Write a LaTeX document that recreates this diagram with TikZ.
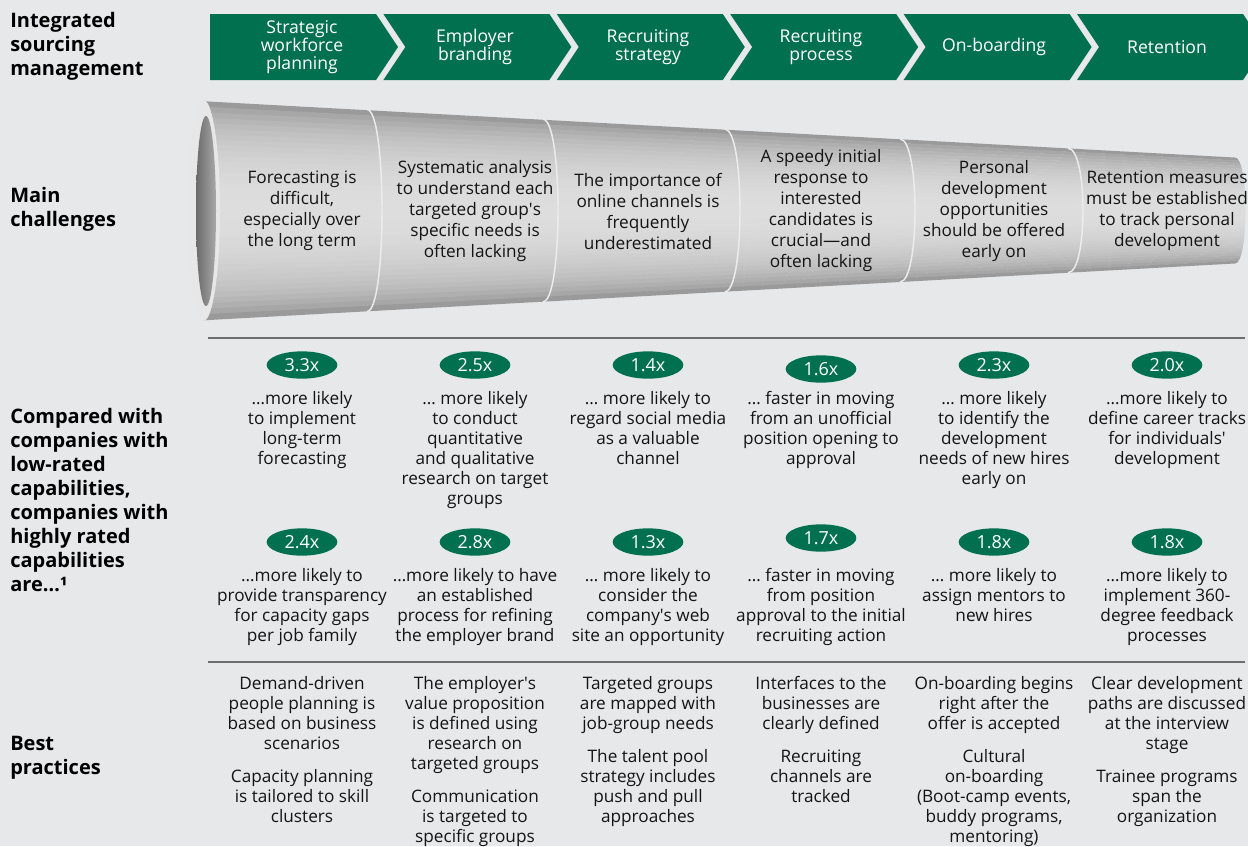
\documentclass[tikz,border=0pt]{standalone}
\usepackage{fontspec}
\setmainfont{Open Sans}
\usetikzlibrary{positioning,shapes.geometric}
\definecolor{bcggreen}{HTML}{00704F}
\definecolor{pagebg}{HTML}{E7E8E9}
\definecolor{rulegray}{HTML}{6E6E6E}
\definecolor{pipedark}{HTML}{858585}
\definecolor{pipelight}{HTML}{DDDDDD}
\definecolor{inkblack}{HTML}{141414}
\tikzset{
  rowlabel/.style = {anchor=west, align=left, inner sep=0pt,
                     font=\fontsize{15}{18}\selectfont\bfseries},
  chevtext/.style = {align=center, text=white, inner sep=0pt,
                     font=\fontsize{13.2}{13.5}\selectfont},
  pipetext/.style = {align=center, text=inkblack, inner sep=0pt,
                     font=\fontsize{12.9}{15.75}\selectfont},
     badge/.style = {ellipse, fill=bcggreen, text=white, inner sep=0pt,
                     minimum width=53pt, minimum height=20.5pt,
                     font=\fontsize{13.5}{14}\selectfont},
  celltext/.style = {anchor=north, align=center, text=inkblack, inner sep=0pt,
                     font=\fontsize{12.9}{15}\selectfont},
}
\begin{document}
\begin{tikzpicture}[x=0.75pt,y=-0.75pt]
\fill[pagebg] (0,0) rectangle (1248,846);
\useasboundingbox (0,0) rectangle (1248,846);
\clip (0,0) rectangle (1248,846);

% row labels
\node[rowlabel] (lblsourcing) at (10,46) {Integrated\\sourcing\\management};
\node[rowlabel] (lblchallenge) at (10,209) {Main\\challenges};
\node[rowlabel] (lblcompare) at (10,500) {Compared with\\companies with\\low-rated\\capabilities,\\companies with\\highly rated\\capabilities\\are…¹};
\node[rowlabel] (lblpractice) at (10,758) {Best\\practices};

% process chevrons
\foreach \i [evaluate=\i as \x using 210+173.4*\i] in {0,...,5}{
  \ifnum\i=0
    \fill[bcggreen] (\x,14) -- (\x+166,14) -- (\x+188,47) -- (\x+166,80) -- (\x,80) -- cycle;
  \else
    \fill[bcggreen] (\x,14) -- (\x+166,14) -- (\x+188,47) -- (\x+166,80) -- (\x,80) -- (\x+22,47) -- cycle;
  \fi
}
\node[chevtext] (ph1) at (302,47) {Strategic\\workforce\\planning};
\node[chevtext] (ph2) at (475,47) {Employer\\branding};
\node[chevtext] (ph3) at (648,47) {Recruiting\\strategy};
\node[chevtext] (ph4) at (821,47) {Recruiting\\process};
\node[chevtext] (ph5) at (994,47) {On-boarding};
\node[chevtext] (ph6) at (1167,47) {Retention};

% the pipe
\begin{scope}
  \clip (204,100.5) -- (1235,157.5) .. controls (1249,157.5) and (1249,263.5) .. (1235,263.5) -- (204,320.5) -- cycle;
  \foreach \j [evaluate=\j as \p using 100*sin(180*(\j+0.5)/40)^0.45] in {0,...,39}{
    \fill[pipelight!\p!pipedark] (190,{100.5+5.5*\j}) -- (1260,{158.9+2.58*\j})
       -- (1260,{158.9+2.58*(\j+1.1)}) -- (190,{100.5+5.5*(\j+1.1)}) -- cycle;
  }
\end{scope}
\fill[pipelight!70!white] (204,210.5) ellipse[x radius=16, y radius=110];
\shade[left color=pipedark!80!black, right color=pipedark!60!pipelight] (206,211) ellipse[x radius=10, y radius=95];
\foreach \s in {367,543,725,900,1068}{
  \draw[white!85!gray, line width=1.1pt] (\s,{100.5+0.0553*(\s-204)})
     .. controls (\s+20,{100.5+0.0553*(\s-204)}) and (\s+20,{320.5-0.0553*(\s-204)}) .. (\s,{320.5-0.0553*(\s-204)});
}
\node[pipetext] (ch1) at (302,211) {Forecasting is\\difficult,\\especially over\\the long term};
\node[pipetext] (ch2) at (475,211) {Systematic analysis\\to understand each\\targeted group\textquotesingle s\\specific needs is\\often lacking};
\node[pipetext] (ch3) at (648,211) {The importance of\\online channels is\\frequently\\underestimated};
\node[pipetext] (ch4) at (821,211) {A speedy initial\\response to\\interested\\candidates is\\crucial—and\\often lacking};
\node[pipetext] (ch5) at (994,211) {Personal\\development\\opportunities\\should be offered\\early on};
\node[pipetext] (ch6) at (1167,211) {Retention measures\\must be established\\to track personal\\development};

% rules
\draw[rulegray, line width=1pt] (208,338) -- (1245,338);
\draw[rulegray, line width=1pt] (208,662) -- (1245,662);

% comparison, first row
\node[badge] (ba1) at (302,365) {3.3x};
\node[badge] (ba2) at (475,365) {2.5x};
\node[badge] (ba3) at (648,365) {1.4x};
\node[badge] (ba4) at (821,369) {1.6x};
\node[badge] (ba5) at (994,365) {2.3x};
\node[badge] (ba6) at (1167,365) {2.0x};
\node[celltext] (ta1) at (302,391) {…more likely\\to implement\\long-term\\forecasting};
\node[celltext] (ta2) at (475,391) {… more likely\\to conduct\\quantitative\\and qualitative\\research on target\\groups};
\node[celltext] (ta3) at (648,391) {… more likely to\\regard social media\\as a valuable\\channel};
\node[celltext] (ta4) at (821,391) {… faster in moving\\from an unofficial\\position opening to\\approval};
\node[celltext] (ta5) at (994,391) {… more likely\\to identify the\\development\\needs of new hires\\early on};
\node[celltext] (ta6) at (1167,391) {…more likely to\\define career tracks\\for individuals\textquotesingle\\development};

% comparison, second row
\node[badge] (bb1) at (302,542) {2.4x};
\node[badge] (bb2) at (475,542) {2.8x};
\node[badge] (bb3) at (648,542) {1.3x};
\node[badge] (bb4) at (821,538) {1.7x};
\node[badge] (bb5) at (994,542) {1.8x};
\node[badge] (bb6) at (1167,542) {1.8x};
\node[celltext] (tb1) at (302,568) {…more likely to\\provide transparency\\for capacity gaps\\per job family};
\node[celltext] (tb2) at (475,568) {…more likely to have\\an established\\process for refining\\the employer brand};
\node[celltext] (tb3) at (648,568) {… more likely to\\consider the\\company\textquotesingle s web\\site an opportunity};
\node[celltext] (tb4) at (821,568) {… faster in moving\\from position\\approval to the initial\\recruiting action};
\node[celltext] (tb5) at (994,568) {… more likely to\\assign mentors to\\new hires};
\node[celltext] (tb6) at (1167,568) {…more likely to\\implement 360-\\degree feedback\\processes};

% best practices
\node[celltext] (bp1) at (302,676) {Demand-driven\\people planning is\\based on business\\scenarios\\[9.75pt]Capacity planning\\is tailored to skill\\clusters};
\node[celltext] (bp2) at (475,676) {The employer\textquotesingle s\\value proposition\\is defined using\\research on\\targeted groups\\[9.75pt]Communication\\is targeted to\\specific groups};
\node[celltext] (bp3) at (648,676) {Targeted groups\\are mapped with\\job-group needs\\[9.75pt]The talent pool\\strategy includes\\push and pull\\approaches};
\node[celltext] (bp4) at (821,676) {Interfaces to the\\businesses are\\clearly defined\\[9.75pt]Recruiting\\channels are\\tracked};
\node[celltext] (bp5) at (994,676) {On-boarding begins\\right after the\\offer is accepted\\[9.75pt]Cultural\\on-boarding\\(Boot-camp events,\\buddy programs,\\mentoring)};
\node[celltext] (bp6) at (1167,676) {Clear development\\paths are discussed\\at the interview\\stage\\[9.75pt]Trainee programs\\span the\\organization};
\end{tikzpicture}
\end{document}
